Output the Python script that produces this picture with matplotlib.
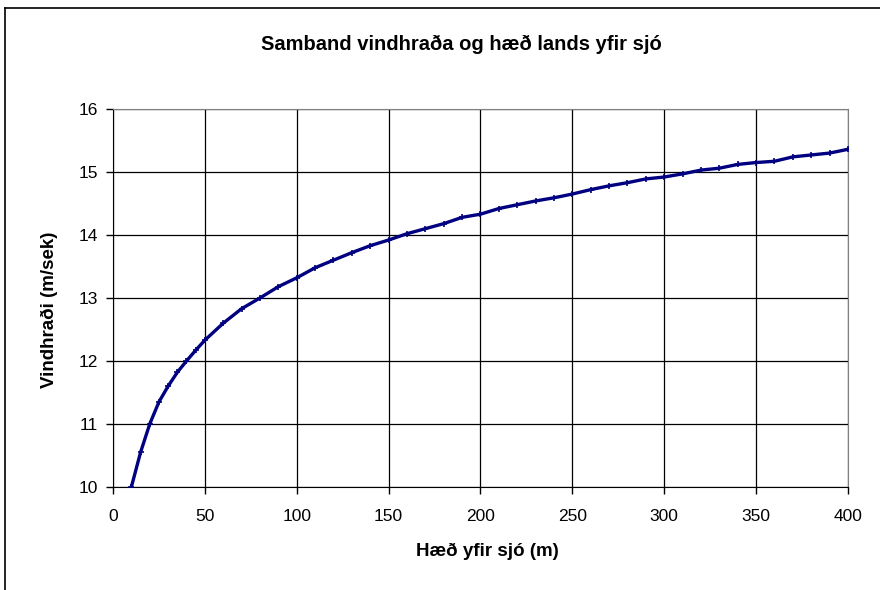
import matplotlib.pyplot as plt
from matplotlib.lines import Line2D

plt.rcParams["font.family"] = ["Liberation Sans", "DejaVu Sans"]

# height above sea level (m) and wind speed (m/s)
height = [10, 15, 20, 25, 30, 35, 40, 45, 50, 60, 70, 80, 90, 100,
          110, 120, 130, 140, 150, 160, 170, 180, 190, 200,
          210, 220, 230, 240, 250, 260, 270, 280, 290, 300,
          310, 320, 330, 340, 350, 360, 370, 380, 390, 400]
wind = [10.0, 10.55, 11.0, 11.35, 11.6, 11.82, 12.0, 12.17, 12.33, 12.6,
        12.83, 13.0, 13.18, 13.32, 13.48, 13.6, 13.72, 13.83, 13.92, 14.02,
        14.1, 14.18, 14.28, 14.33, 14.42, 14.48, 14.54, 14.59, 14.65, 14.72,
        14.78, 14.83, 14.89, 14.92, 14.97, 15.03, 15.06, 15.12, 15.15, 15.17,
        15.24, 15.27, 15.3, 15.36]

x_ticks = [0, 50, 100, 150, 200, 250, 300, 350, 400]
y_ticks = [10, 11, 12, 13, 14, 15, 16]

fig = plt.figure(figsize=(8.8, 5.9), dpi=100)
ax = fig.add_axes([0.1284, 0.1746, 0.8352, 0.6407])

ax.plot(height, wind, color="#000080", linewidth=2.4,
        marker="+", markersize=4, markeredgewidth=1.2, zorder=3)

ax.set_xlim(0, 400)
ax.set_ylim(10, 16)
ax.set_xticks(x_ticks)
ax.set_yticks(y_ticks)
ax.grid(True, color="black", linewidth=0.9)
ax.set_axisbelow(True)

for side in ("top", "right"):
    ax.spines[side].set_color("#808080")
for side in ("left", "bottom"):
    ax.spines[side].set_color("black")
ax.tick_params(axis="both", direction="out", length=5, width=1,
               labelsize=12.5)
ax.tick_params(axis="x", pad=11)
ax.tick_params(axis="y", pad=6)

ax.set_xlabel("Hæð yfir sjó (m)", fontsize=13.5, fontweight="bold")
ax.set_ylabel("Vindhraði (m/sek)", fontsize=13.5, fontweight="bold")
ax.yaxis.set_label_coords(-0.075, 0.47)
ax.xaxis.set_label_coords(0.51, -0.148)
fig.text(0.524, 0.924, "Samband vindhraða og hæð lands yfir sjó",
         ha="center", va="center", fontsize=14.5, fontweight="bold")

# chart area border (top and left edges only visible)
fig.add_artist(Line2D([5 / 880, 5 / 880], [0, 1 - 8 / 590],
                      color="black", linewidth=1.2, transform=fig.transFigure))
fig.add_artist(Line2D([5 / 880, 1], [1 - 8 / 590, 1 - 8 / 590],
                      color="black", linewidth=1.2, transform=fig.transFigure))

fig.savefig("out.png", dpi=100)
